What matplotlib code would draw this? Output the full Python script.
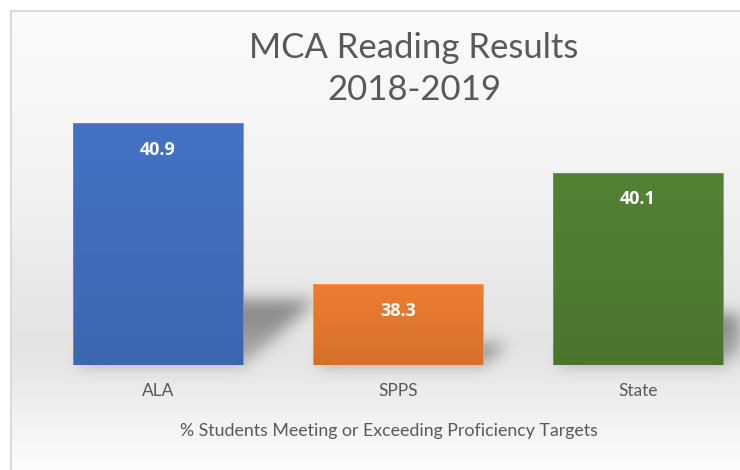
import numpy as np
import matplotlib
matplotlib.use("Agg")
import matplotlib.pyplot as plt
from matplotlib.colors import to_rgb
from matplotlib.lines import Line2D

# ---- data ----
categories = ["ALA", "SPPS", "State"]
values = [40.9, 38.3, 40.1]
bar_colors = ["#4472C4", "#ED7D31", "#548235"]
title_text = "MCA Reading Results\n2018-2019"
xlabel_text = "% Students Meeting or Exceeding Proficiency Targets"

W, H = 740, 470
FONT = ["Lato", "DejaVu Sans"]
BFONT = ["Open Sans", "DejaVu Sans"]
TXT = "#595959"

fig = plt.figure(figsize=(W / 100, H / 100), dpi=100)
fig.patch.set_facecolor("white")

# background axes (gradient + shadows)
bg = fig.add_axes([0, 0, 1, 1], zorder=0)
bg.set_xlim(0, W)
bg.set_ylim(0, H)
bg.axis("off")

ax = fig.add_axes([38 / W, 105 / H, 702 / W, 248 / H], zorder=2)
ax.set_facecolor("none")
x = np.arange(len(categories))
bars = ax.bar(x, values, width=170 / 240, color=bar_colors, zorder=3,
              edgecolor="none")
ax.set_xlim(-0.5, -0.5 + 702 / 240)
ax.set_ylim(37, 41)
ax.set_yticks([])
for s in ax.spines.values():
    s.set_visible(False)
ax.set_xticks(x)
ax.set_xticklabels(categories, fontsize=12.5, color=TXT, family=FONT)
ax.tick_params(axis="x", length=0, pad=13)
ax.set_xlabel(xlabel_text, fontsize=12.8, color=TXT, family=FONT, labelpad=17)

# gentle vertical gradient on bars
for b, c in zip(bars, bar_colors):
    rgb = np.array(to_rgb(c))
    g = np.linspace(1.0, 0.9, 64)[:, None, None] * rgb[None, None, :]
    x0, y0 = b.get_x(), 37
    im = ax.imshow(g, extent=(x0, x0 + b.get_width(), y0, b.get_height()),
                   aspect="auto", origin="upper", zorder=4)
    im.set_clip_path(b)
    ax.bar(b.get_x() + b.get_width() / 2, b.get_height(), width=b.get_width(),
           color="none", edgecolor=tuple(np.minimum(rgb * 1.25, 1)),
           linewidth=0.6, zorder=5)

for xi, v in zip(x, values):
    ax.annotate(f"{v}", (xi, v), xytext=(0, -19), textcoords="offset points",
                ha="center", va="center", color="white", fontsize=13,
                fontweight="bold", family=BFONT, zorder=6)

ax.set_xlim(-0.5, -0.5 + 702 / 240)
ax.set_ylim(37, 41)

# ---- background image in figure pixels ----
rows = np.arange(H)
kr = [0, 100, 200, 300, 345, 380, 430, 470]
kv = [0.985, 0.97, 0.945, 0.905, 0.895, 0.915, 0.96, 0.99]
prof = np.interp(rows, kr, kv)
img = np.repeat(prof[:, None], W, axis=1)

mask = np.zeros((H, W))
cols = np.arange(W)
for b in bars:
    (px0, pyb), (px1, pyt) = ax.transData.transform(
        [(b.get_x(), 37), (b.get_x() + b.get_width(), b.get_height())])
    rb = H - pyb
    rt = H - pyt
    h = rb - rt
    L = 0.27 * h
    shift = 1.1 * L
    for r in range(int(rb - L), int(rb) + 1):
        t = (rb - r) / L
        if t < 0 or t > 1:
            continue
        off = shift * t
        sel = (cols >= px0 + off) & (cols <= px1 + off)
        mask[r, sel] = 0.5 + 0.5 * t

sig = 8
kx = np.arange(-3 * sig, 3 * sig + 1)
k = np.exp(-kx ** 2 / (2 * sig ** 2))
k /= k.sum()
pad = 3 * sig
mp = np.pad(mask, pad)
mp = np.apply_along_axis(lambda r: np.convolve(r, k, mode="same"), 1, mp)
mp = np.apply_along_axis(lambda c: np.convolve(c, k, mode="same"), 0, mp)
mask = mp[pad:-pad, pad:-pad]
img = img - 0.4 * mask

# frame: white outside
fx, fy = 11, 11
img[:fy, :] = 1.0
img[:, :fx] = 1.0
rgbimg = np.dstack([img, img, img]).clip(0, 1)
bg.imshow(rgbimg, extent=(0, W, 0, H), origin="upper", aspect="auto",
          interpolation="bilinear", zorder=0)
bg.add_line(Line2D([fx, fx], [0, H - fy], color="#d4d4d4", lw=1.2, zorder=1))
bg.add_line(Line2D([fx, W], [H - fy, H - fy], color="#d4d4d4", lw=1.2, zorder=1))

fig.text(414 / W, 1 - 69 / H, title_text, ha="center", va="center",
         fontsize=25, color=TXT, family=FONT, linespacing=1.35)

fig.savefig("out.png", dpi=100)
